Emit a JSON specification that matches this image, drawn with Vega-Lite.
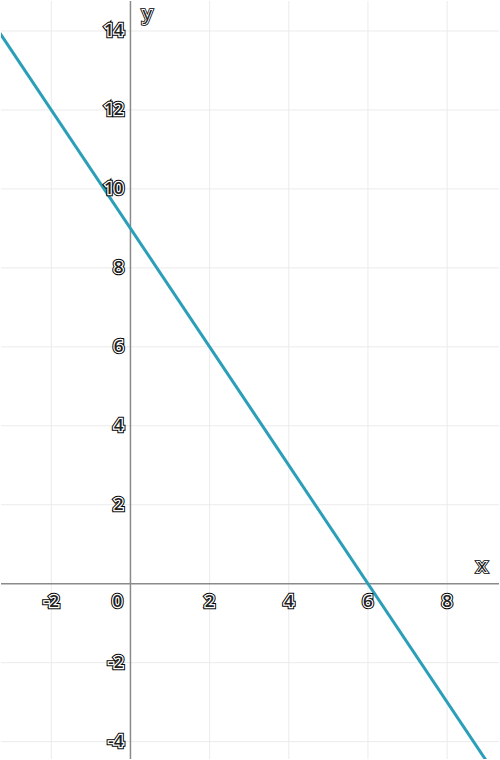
{
  "$schema": "https://vega.github.io/schema/vega-lite/v6.json",
  "width": 500,
  "height": 760,
  "padding": 0,
  "autosize": {"type": "fit", "contains": "padding"},
  "background": "white",
  "config": {"view": {"stroke": null}},
  "datasets": {
    "line": [{"x": -4, "y": 15}, {"x": 10, "y": -6}],
    "xlabels": [{"v": -2, "t": "-2"}, {"v": 2, "t": "2"}, {"v": 4, "t": "4"}, {"v": 6, "t": "6"}, {"v": 8, "t": "8"}],
    "ylabels": [{"v": -4, "t": "-4"}, {"v": -2, "t": "-2"}, {"v": 2, "t": "2"}, {"v": 4, "t": "4"}, {"v": 6, "t": "6"}, {"v": 8, "t": "8"}, {"v": 10, "t": "10"}, {"v": 12, "t": "12"}, {"v": 14, "t": "14"}],
    "xgrid": [{"v": -2}, {"v": 2}, {"v": 4}, {"v": 6}, {"v": 8}],
    "ygrid": [{"v": -4}, {"v": -2}, {"v": 2}, {"v": 4}, {"v": 6}, {"v": 8}, {"v": 10}, {"v": 12}, {"v": 14}],
    "zero": [{"v": 0}]
  },
  "resolve": {"scale": {"x": "shared", "y": "shared"}},
  "layer": [
    {
      "data": {"name": "xgrid"},
      "mark": {"type": "rule", "stroke": "#ebebeb", "strokeWidth": 1},
      "encoding": {
        "x": {"field": "v", "type": "quantitative", "scale": {"domain": [-3.27, 9.31], "nice": false, "zero": false}, "axis": null}
      }
    },
    {
      "data": {"name": "ygrid"},
      "mark": {"type": "rule", "stroke": "#ebebeb", "strokeWidth": 1},
      "encoding": {
        "y": {"field": "v", "type": "quantitative", "scale": {"domain": [-4.44, 14.76], "nice": false, "zero": false}, "axis": null}
      }
    },
    {
      "data": {"name": "zero"},
      "mark": {"type": "rule", "stroke": "#8a8a8a", "strokeWidth": 1.5},
      "encoding": {"x": {"field": "v", "type": "quantitative"}}
    },
    {
      "data": {"name": "zero"},
      "mark": {"type": "rule", "stroke": "#8a8a8a", "strokeWidth": 1.5},
      "encoding": {"y": {"field": "v", "type": "quantitative"}}
    },
    {
      "data": {"name": "line"},
      "mark": {"type": "line", "stroke": "#2b9fb7", "strokeWidth": 3, "clip": true},
      "encoding": {
        "x": {"field": "x", "type": "quantitative"},
        "y": {"field": "y", "type": "quantitative"}
      }
    },
    {
      "data": {"name": "xlabels"},
      "layer": [
        {"mark": {"type": "text", "fontSize": 17, "font": "Open Sans", "fontWeight": 600, "align": "center", "baseline": "middle", "dy": 18, "fill": "black", "stroke": "black", "strokeWidth": 4.5}},
        {"mark": {"type": "text", "fontSize": 17, "font": "Open Sans", "fontWeight": 600, "align": "center", "baseline": "middle", "dy": 18, "fill": "white", "stroke": "white", "strokeWidth": 2.5}},
        {"mark": {"type": "text", "fontSize": 17, "font": "Open Sans", "fontWeight": 600, "align": "center", "baseline": "middle", "dy": 18, "fill": "#222"}}
      ],
      "encoding": {
        "x": {"field": "v", "type": "quantitative"},
        "y": {"datum": 0, "type": "quantitative"},
        "text": {"field": "t"}
      }
    },
    {
      "data": {"name": "ylabels"},
      "layer": [
        {"mark": {"type": "text", "fontSize": 17, "font": "Open Sans", "fontWeight": 600, "align": "right", "baseline": "middle", "dx": -7, "fill": "black", "stroke": "black", "strokeWidth": 4.5}},
        {"mark": {"type": "text", "fontSize": 17, "font": "Open Sans", "fontWeight": 600, "align": "right", "baseline": "middle", "dx": -7, "fill": "white", "stroke": "white", "strokeWidth": 2.5}},
        {"mark": {"type": "text", "fontSize": 17, "font": "Open Sans", "fontWeight": 600, "align": "right", "baseline": "middle", "dx": -7, "fill": "#222"}}
      ],
      "encoding": {
        "x": {"datum": 0, "type": "quantitative"},
        "y": {"field": "v", "type": "quantitative"},
        "text": {"field": "t"}
      }
    },
    {
      "data": {"values": [{"x": 0, "y": 0, "t": "0"}]},
      "layer": [
        {"mark": {"type": "text", "fontSize": 17, "font": "Open Sans", "fontWeight": 600, "align": "center", "baseline": "middle", "dx": -13, "dy": 18, "fill": "black", "stroke": "black", "strokeWidth": 4.5}},
        {"mark": {"type": "text", "fontSize": 17, "font": "Open Sans", "fontWeight": 600, "align": "center", "baseline": "middle", "dx": -13, "dy": 18, "fill": "white", "stroke": "white", "strokeWidth": 2.5}},
        {"mark": {"type": "text", "fontSize": 17, "font": "Open Sans", "fontWeight": 600, "align": "center", "baseline": "middle", "dx": -13, "dy": 18, "fill": "#222"}}
      ],
      "encoding": {
        "x": {"field": "x", "type": "quantitative"},
        "y": {"field": "y", "type": "quantitative"},
        "text": {"field": "t"}
      }
    },
    {
      "data": {"values": [{"t": "y", "x": 0, "y": 14.76}]},
      "layer": [
        {"mark": {"type": "text", "fontSize": 19, "font": "Open Sans", "align": "left", "baseline": "top", "dx": 12, "dy": 4, "fill": "black", "stroke": "black", "strokeWidth": 3.5}},
        {"mark": {"type": "text", "fontSize": 19, "font": "Open Sans", "align": "left", "baseline": "top", "dx": 12, "dy": 4, "fill": "white", "stroke": "white", "strokeWidth": 1.8}},
        {"mark": {"type": "text", "fontSize": 19, "font": "Open Sans", "align": "left", "baseline": "top", "dx": 12, "dy": 4, "fill": "#222"}}
      ],
      "encoding": {
        "x": {"field": "x", "type": "quantitative"},
        "y": {"field": "y", "type": "quantitative"},
        "text": {"field": "t"}
      }
    },
    {
      "data": {"values": [{"t": "x", "x": 9.31, "y": 0}]},
      "layer": [
        {"mark": {"type": "text", "fontSize": 19, "font": "Open Sans", "align": "right", "baseline": "bottom", "dx": -12, "dy": -8, "fill": "black", "stroke": "black", "strokeWidth": 3.5}},
        {"mark": {"type": "text", "fontSize": 19, "font": "Open Sans", "align": "right", "baseline": "bottom", "dx": -12, "dy": -8, "fill": "white", "stroke": "white", "strokeWidth": 1.8}},
        {"mark": {"type": "text", "fontSize": 19, "font": "Open Sans", "align": "right", "baseline": "bottom", "dx": -12, "dy": -8, "fill": "#222"}}
      ],
      "encoding": {
        "x": {"field": "x", "type": "quantitative"},
        "y": {"field": "y", "type": "quantitative"},
        "text": {"field": "t"}
      }
    }
  ]
}
